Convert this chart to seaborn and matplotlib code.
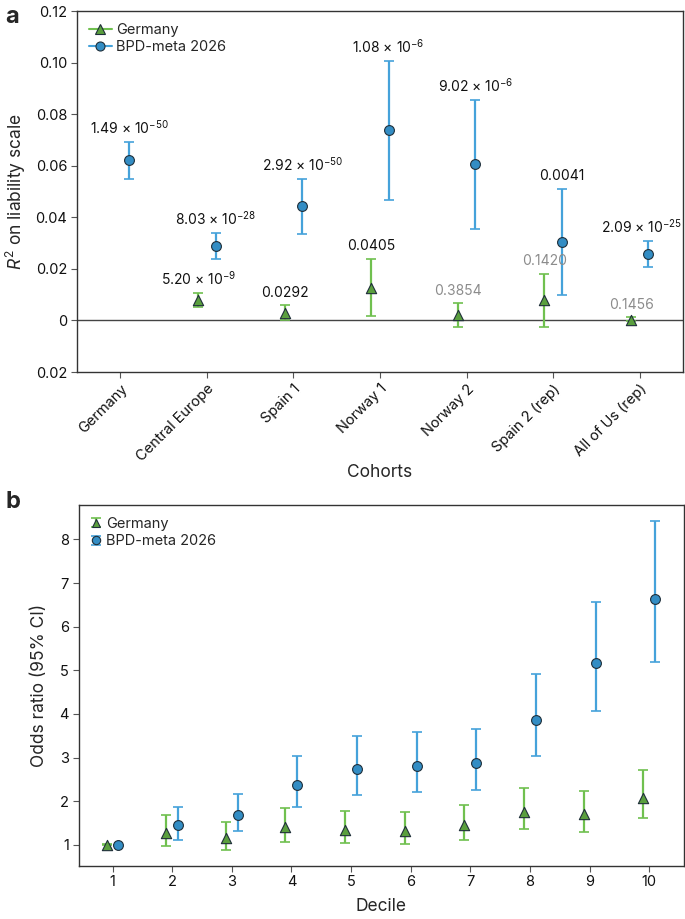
import numpy as np
import matplotlib
matplotlib.use("Agg")
import matplotlib.pyplot as plt
from matplotlib.lines import Line2D
from matplotlib.container import ErrorbarContainer
from matplotlib.legend_handler import HandlerErrorbar
import seaborn as sns

# panel a data
cohorts = ["Germany", "Central Europe", "Spain 1", "Norway 1", "Norway 2", "Spain 2 (rep)", "All of Us (rep)"]

bpd_r2 = [0.0624, 0.0288, 0.0443, 0.0738, 0.0605, 0.0304, 0.0258]
bpd_lo = [0.0548, 0.0239, 0.0337, 0.0468, 0.0355, 0.0098, 0.0208]
bpd_hi = [0.0691, 0.0338, 0.0549, 0.1006, 0.0855, 0.0510, 0.0307]
bpd_p = [r"1.49 × 10$^{-50}$", r"8.03 × 10$^{-28}$", r"2.92 × 10$^{-50}$", r"1.08 × 10$^{-6}$",
         r"9.02 × 10$^{-6}$", "0.0041", r"2.09 × 10$^{-25}$"]

ger_r2 = [np.nan, 0.0080, 0.0030, 0.0127, 0.0020, 0.0078, 0.0003]
ger_lo = [np.nan, 0.0054, 0.0000, 0.0016, -0.0026, -0.0026, -0.0003]
ger_hi = [np.nan, 0.0106, 0.0059, 0.0239, 0.0066, 0.0181, 0.0012]
ger_p = [None, r"5.20 × 10$^{-9}$", "0.0292", "0.0405", "0.3854", "0.1420", "0.1456"]
ger_sig = [None, True, True, True, False, False, False]

# panel b data
deciles = [1, 2, 3, 4, 5, 6, 7, 8, 9, 10]
ger_or = [1.00, 1.26, 1.15, 1.40, 1.34, 1.31, 1.45, 1.76, 1.70, 2.07]
ger_or_lo = [0.99, 0.98, 0.87, 1.07, 1.03, 1.01, 1.11, 1.35, 1.30, 1.61]
ger_or_hi = [1.01, 1.69, 1.53, 1.85, 1.78, 1.74, 1.91, 2.31, 2.24, 2.72]
bpd_or = [1.00, 1.45, 1.69, 2.37, 2.74, 2.80, 2.87, 3.87, 5.17, 6.63]
bpd_or_lo = [1.00, 1.12, 1.31, 1.86, 2.15, 2.20, 2.25, 3.04, 4.07, 5.20]
bpd_or_hi = [1.00, 1.87, 2.17, 3.03, 3.49, 3.58, 3.66, 4.92, 6.57, 8.43]

sns.set_style("white")
plt.rcParams['font.family'] = ['Inter', 'DejaVu Sans']
plt.rcParams['mathtext.fontset'] = 'custom'
plt.rcParams['mathtext.rm'] = 'Inter'
plt.rcParams['mathtext.it'] = 'Inter:italic'
plt.rcParams['mathtext.bf'] = 'Inter:bold'

GREEN_BAR = "#70c04f"
GREEN_MK = "#5a9f3e"
BLUE_BAR = "#45a2da"
BLUE_MK = "#338dc4"
EDGE = "#1f2f3a"
SPINE = "#333333"

fig = plt.figure(figsize=(6.85, 9.19), dpi=100)
ax1 = fig.add_axes([0.1124, 0.5952, 0.8847, 0.3928])
ax2 = fig.add_axes([0.1146, 0.0580, 0.8839, 0.3925])

# ---- panel a ----
xa = np.arange(len(cohorts))
xg = xa - 0.1
xb = xa + 0.1

ger_r2_a = np.array(ger_r2)
ax1.errorbar(xg, ger_r2_a, yerr=[ger_r2_a - np.array(ger_lo), np.array(ger_hi) - ger_r2_a],
             fmt="none", ecolor=GREEN_BAR, elinewidth=1.6, capsize=3.5, capthick=1.2, zorder=2)
bpd_r2_a = np.array(bpd_r2)
ax1.errorbar(xb, bpd_r2_a, yerr=[bpd_r2_a - np.array(bpd_lo), np.array(bpd_hi) - bpd_r2_a],
             fmt="none", ecolor=BLUE_BAR, elinewidth=1.6, capsize=3.5, capthick=1.2, zorder=2)
sns.scatterplot(x=xg, y=ger_r2, marker="^", s=55, color=GREEN_MK, edgecolor=EDGE,
                linewidth=0.8, ax=ax1, zorder=3, legend=False)
sns.scatterplot(x=xb, y=bpd_r2, marker="o", s=50, color=BLUE_MK, edgecolor=EDGE,
                linewidth=0.8, ax=ax1, zorder=3, legend=False)

for i in range(len(cohorts)):
    dx = -5 if i == len(cohorts) - 1 else 0
    ax1.annotate(bpd_p[i], (xb[i], bpd_hi[i]), xytext=(dx, 4), textcoords="offset points",
                 ha="center", va="bottom", fontsize=10, color="#111111")
    if ger_p[i] is not None:
        ax1.annotate(ger_p[i], (xg[i], ger_hi[i]), xytext=(0, 4), textcoords="offset points",
                     ha="center", va="bottom", fontsize=10,
                     color="#111111" if ger_sig[i] else "#8c8c8c")

ax1.axhline(0, color="#444444", lw=1.0, zorder=1)
ax1.set_xlim(-0.5, 6.5)
ax1.set_ylim(-0.02, 0.12)
yt = [-0.02, 0, 0.02, 0.04, 0.06, 0.08, 0.10, 0.12]
ax1.set_yticks(yt)
ax1.set_yticklabels(["0.02", "0", "0.02", "0.04", "0.06", "0.08", "0.10", "0.12"])
ax1.set_xticks(xa)
ax1.set_xticklabels(cohorts, rotation=45, ha="right", rotation_mode="anchor")
ax1.set_xlabel("Cohorts", fontsize=12.5, labelpad=0)
ax1.set_ylabel(r"$R^2$ on liability scale", fontsize=12.5, labelpad=5)

handles_a = [Line2D([0], [0], color=GREEN_BAR, lw=1.5, marker="^", markersize=6.5,
                    markerfacecolor=GREEN_MK, markeredgecolor=EDGE, markeredgewidth=0.8),
             Line2D([0], [0], color=BLUE_BAR, lw=1.5, marker="o", markersize=6.5,
                    markerfacecolor=BLUE_MK, markeredgecolor=EDGE, markeredgewidth=0.8)]
ax1.legend(handles_a, ["Germany", "BPD-meta 2026"], loc="upper left", frameon=False,
           fontsize=10.5, handlelength=1.6, handletextpad=0.3, labelspacing=0.25,
           borderaxespad=0.4, bbox_to_anchor=(0.0, 1.0))

# ---- panel b ----
dg = np.array(deciles) - 0.1
db = np.array(deciles) + 0.1
ger_or_a = np.array(ger_or)
eb_g = ax2.errorbar(dg, ger_or_a, yerr=[ger_or_a - np.array(ger_or_lo), np.array(ger_or_hi) - ger_or_a],
                    fmt="none", ecolor=GREEN_BAR, elinewidth=1.6, capsize=3.5, capthick=1.2, zorder=2)
bpd_or_a = np.array(bpd_or)
eb_b = ax2.errorbar(db, bpd_or_a, yerr=[bpd_or_a - np.array(bpd_or_lo), np.array(bpd_or_hi) - bpd_or_a],
                    fmt="none", ecolor=BLUE_BAR, elinewidth=1.6, capsize=3.5, capthick=1.2, zorder=2)
sns.scatterplot(x=dg, y=ger_or, marker="^", s=55, color=GREEN_MK, edgecolor=EDGE,
                linewidth=0.8, ax=ax2, zorder=3, legend=False)
sns.scatterplot(x=db, y=bpd_or, marker="o", s=50, color=BLUE_MK, edgecolor=EDGE,
                linewidth=0.8, ax=ax2, zorder=3, legend=False)

ax2.set_xlim(0.43, 10.58)
ax2.set_ylim(0.52, 8.79)
ax2.set_xticks(deciles)
ax2.set_yticks([1, 2, 3, 4, 5, 6, 7, 8])
ax2.set_xlabel("Decile", fontsize=12.5, labelpad=6)
ax2.set_ylabel("Odds ratio (95% CI)", fontsize=12.5, labelpad=8)

mk_g = Line2D([0], [0], ls="none", marker="^", markersize=6, markerfacecolor=GREEN_MK,
              markeredgecolor=EDGE, markeredgewidth=0.8)
mk_b = Line2D([0], [0], ls="none", marker="o", markersize=6, markerfacecolor=BLUE_MK,
              markeredgecolor=EDGE, markeredgewidth=0.8)
ax2.legend([(eb_g, mk_g), (eb_b, mk_b)], ["Germany", "BPD-meta 2026"], loc="upper left",
           frameon=False, fontsize=10.5, handlelength=0.8, handletextpad=0.3, labelspacing=0.25,
           borderaxespad=0.4, bbox_to_anchor=(0.0, 1.0),
           handler_map={ErrorbarContainer: HandlerErrorbar(xerr_size=0.25, yerr_size=0.3)})

for ax in (ax1, ax2):
    for sp in ax.spines.values():
        sp.set_color(SPINE)
        sp.set_linewidth(1.0)
    ax.tick_params(axis="both", which="both", direction="out", length=4, width=0.8,
                   color="#555555", labelsize=10.5, labelcolor="#111111", left=True, bottom=True, pad=3)

fig.text(0.008, 0.981, "a", fontsize=17, fontweight="bold", ha="left", va="center")
fig.text(0.008, 0.454, "b", fontsize=17, fontweight="bold", ha="left", va="center")

plt.savefig("out.png", dpi=100)
